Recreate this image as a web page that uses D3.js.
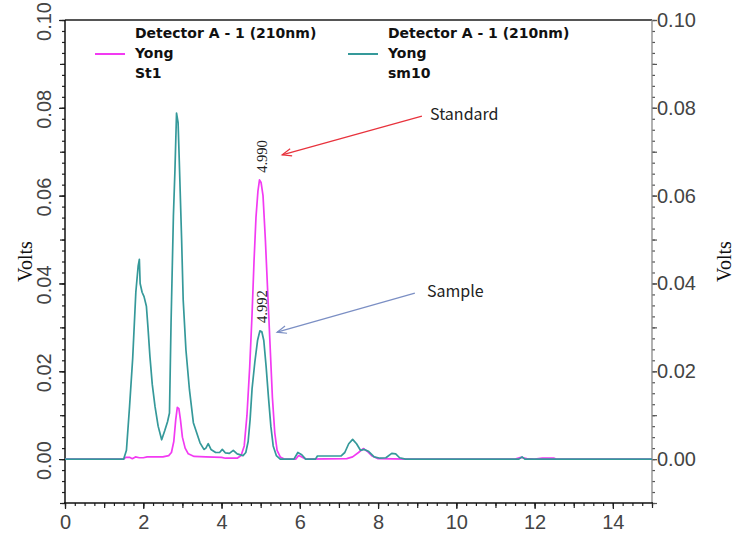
<!DOCTYPE html>
<html>
<head>
<meta charset="utf-8">
<script src="https://cdn.jsdelivr.net/npm/d3@7"></script>
<style>
  body { margin: 0; background: #fff; }
  svg { display: block; }
</style>
</head>
<body>
<div id="chart"></div>
<script>
// Chromatogram: Detector A - 1 (210nm), two runs (time in min, signal in volts)
const st1Points = [
  [0, 0], [1.50, 0], [1.55, 0.0004], [1.65, 0.0004], [1.72, 0.0001], [1.80, 0.0005],
  [1.90, 0.0003], [2.00, 0.0003], [2.10, 0.0005], [2.30, 0.0005], [2.50, 0.0005],
  [2.65, 0.0008], [2.72, 0.0015], [2.78, 0.004], [2.83, 0.009], [2.87, 0.0118],
  [2.91, 0.0115], [2.95, 0.009], [3.00, 0.005], [3.07, 0.0025], [3.15, 0.0012],
  [3.30, 0.0006], [3.60, 0.0005], [4.00, 0.0004], [4.10, 0.0002], [4.40, 0.0002],
  [4.50, 0.0008], [4.58, 0.003], [4.65, 0.010], [4.72, 0.021], [4.78, 0.033],
  [4.83, 0.045], [4.88, 0.055], [4.93, 0.061], [4.97, 0.0636], [5.01, 0.063],
  [5.06, 0.060], [5.12, 0.050], [5.18, 0.038], [5.24, 0.026], [5.30, 0.014],
  [5.36, 0.006], [5.42, 0.002], [5.50, 0.0005], [5.60, 0], [5.90, 0], [5.97, 0.0008],
  [6.05, 0.0005], [6.15, 0], [7.20, 0.0001], [7.35, 0.0005], [7.50, 0.0015],
  [7.62, 0.0024], [7.72, 0.0018], [7.85, 0.0007], [8.00, 0.0001], [8.80, 0],
  [11.50, 0], [11.65, 0.0004], [11.80, 0.0001], [12.00, 0], [12.20, 0.0002],
  [12.50, 0.0002], [12.55, 0], [15, 0]
];

const sm10Points = [
  [0, 0], [1.50, 0], [1.57, 0.002], [1.65, 0.012], [1.73, 0.023], [1.81, 0.038],
  [1.87, 0.044], [1.90, 0.0455], [1.92, 0.040], [1.97, 0.038], [2.02, 0.037],
  [2.08, 0.0348], [2.12, 0.030], [2.17, 0.0234], [2.23, 0.017], [2.30, 0.012],
  [2.38, 0.0075], [2.47, 0.0044], [2.55, 0.0065], [2.62, 0.0085], [2.67, 0.0105],
  [2.71, 0.031], [2.77, 0.0553], [2.81, 0.0659], [2.85, 0.0788], [2.89, 0.0766],
  [2.92, 0.068], [2.98, 0.050], [3.02, 0.0363], [3.09, 0.0249], [3.18, 0.0158],
  [3.28, 0.0083], [3.45, 0.0037], [3.55, 0.0022], [3.60, 0.0025], [3.66, 0.0035],
  [3.73, 0.0022], [3.85, 0.0015], [3.95, 0.0015], [4.02, 0.0022], [4.10, 0.0014],
  [4.20, 0.0013], [4.30, 0.002], [4.40, 0.0012], [4.55, 0.0008], [4.62, 0.0015],
  [4.68, 0.004], [4.73, 0.009], [4.78, 0.016], [4.85, 0.022], [4.92, 0.027],
  [4.98, 0.0292], [5.03, 0.029], [5.08, 0.027], [5.14, 0.021], [5.20, 0.014],
  [5.26, 0.0075], [5.32, 0.003], [5.40, 0.0008], [5.50, 0], [5.85, 0],
  [5.95, 0.0015], [6.05, 0.001], [6.15, 0], [6.40, 0], [6.45, 0.0007],
  [7.05, 0.0007], [7.15, 0.0015], [7.25, 0.0035], [7.35, 0.0045], [7.45, 0.0035],
  [7.55, 0.002], [7.65, 0.0022], [7.75, 0.0018], [7.90, 0.0005], [8.05, 0.0002],
  [8.20, 0.0003], [8.35, 0.0013], [8.45, 0.0012], [8.55, 0.0003], [8.70, 0],
  [11.60, 0], [11.68, 0.0005], [11.75, 0], [15, 0]
];

const legendHeader = "Detector A - 1 (210nm)";
const legendUser = ["Yong", "Yong"];
const legendRuns = ["St1", "sm10"];
const seriesColors = ["#f23af2", "#35999a"];

const peakTimes = [4.990, 4.992];
const peakVolts = [0.0636, 0.0294];
const peakLabels = ["4.990", "4.992"];

const xMajorTicks = [0, 2, 4, 6, 8, 10, 12, 14];
const yMajorTicks = [0, 0.02, 0.04, 0.06, 0.08, 0.10];

// arrows: [label, text pos (min, V), tail (min, V), head (min, V), colour]
const notes = [
  ["Standard", [9.33, 0.0788], [9.12, 0.0781], [5.55, 0.0693], "#e8323c"],
  ["Sample", [9.25, 0.0385], [8.94, 0.0378], [5.42, 0.0289], "#7b8fc4"]
];

const W = 734, H = 535;
const margin = { top: 20, right: 82, bottom: 32, left: 65 };

const svg = d3.select("#chart").append("svg")
  .attr("width", W)
  .attr("height", H);

const x = d3.scaleLinear().domain([0, 15]).range([margin.left, W - margin.right]);
const y = d3.scaleLinear().domain([-0.01, 0.10]).range([H - margin.bottom, margin.top]);

const tickFont = "'Liberation Sans', Arial, sans-serif";

// --- axes: minor / mid / major tick layers ---
function drawAxis(axisFn, pos, values, size, stroke, withLabels, fmt) {
  const a = axisFn.tickValues(values).tickSizeInner(size).tickSizeOuter(0)
    .tickFormat(withLabels ? fmt : "");
  const g = svg.append("g").attr("transform", pos).call(a);
  g.select(".domain").remove();
  g.selectAll(".tick line").attr("stroke", stroke).attr("stroke-width", 1.2);
  return g;
}

const xMinor = d3.range(0, 15.001, 0.25);
const xMid = d3.range(0, 15.001, 1);
const bottomPos = `translate(0,${H - margin.bottom})`;
drawAxis(d3.axisBottom(x), bottomPos, xMinor, 3, "#222", false);
drawAxis(d3.axisBottom(x), bottomPos, xMid, 5, "#222", false);
const gx = drawAxis(d3.axisBottom(x), bottomPos, xMajorTicks, 6, "#222", true, d3.format("d"));
gx.selectAll(".tick text")
  .attr("y", 20)
  .attr("dy", "0.32em")
  .attr("fill", "#444")
  .style("font-family", tickFont)
  .style("font-size", "20px");

const yMinor = d3.range(-0.01, 0.1001, 0.0025);
const yMid = d3.range(-0.01, 0.1001, 0.01);
const leftPos = `translate(${margin.left},0)`;
drawAxis(d3.axisLeft(y), leftPos, yMinor, 3, "#222", false);
drawAxis(d3.axisLeft(y), leftPos, yMid, 5, "#222", false);
const gyl = drawAxis(d3.axisLeft(y), leftPos, yMajorTicks, 6, "#222", true, d3.format(".2f"));
gyl.selectAll(".tick text")
  .attr("x", null).attr("dy", null)
  .attr("text-anchor", "middle")
  .attr("dominant-baseline", "central")
  .attr("transform", "translate(-21,1) rotate(-90)")
  .attr("fill", "#444")
  .style("font-family", tickFont)
  .style("font-size", "20px");

const rightPos = `translate(${W - margin.right},0)`;
drawAxis(d3.axisRight(y), rightPos, yMinor, 3, "#555", false);
drawAxis(d3.axisRight(y), rightPos, yMid, 5, "#555", false);
const gyr = drawAxis(d3.axisRight(y), rightPos, yMajorTicks, 5, "#555", true, d3.format(".2f"));
gyr.selectAll(".tick text")
  .attr("x", 5)
  .attr("fill", "#444")
  .style("font-family", tickFont)
  .style("font-size", "20px");

// frame lines
svg.append("line")
  .attr("x1", x(0)).attr("x2", x(15)).attr("y1", y(0.10)).attr("y2", y(0.10))
  .attr("stroke", "#555").attr("stroke-width", 2);
svg.append("line")
  .attr("x1", x(15)).attr("x2", x(15)).attr("y1", y(0.10)).attr("y2", y(-0.01))
  .attr("stroke", "#888").attr("stroke-width", 1.3);
svg.append("line")
  .attr("x1", x(0)).attr("x2", x(0)).attr("y1", y(0.10)).attr("y2", y(-0.01))
  .attr("stroke", "#111").attr("stroke-width", 1.5);
svg.append("line")
  .attr("x1", x(0) - 1).attr("x2", x(15) + 1).attr("y1", y(-0.01)).attr("y2", y(-0.01))
  .attr("stroke", "#111").attr("stroke-width", 1.5);

// axis titles
[25, 724].forEach(cx => {
  svg.append("text")
    .attr("transform", `translate(${cx},${(y(0.10) + y(-0.01)) / 2}) rotate(-90)`)
    .attr("text-anchor", "middle")
    .attr("dominant-baseline", "central")
    .attr("fill", "#111")
    .style("font-family", "'Liberation Serif', 'Times New Roman', serif")
    .style("font-size", "20px")
    .text("Volts");
});

// traces
const line = d3.line().x(d => x(d[0])).y(d => y(d[1]));
[st1Points, sm10Points].forEach((pts, i) => {
  svg.append("path")
    .datum(pts)
    .attr("fill", "none")
    .attr("stroke", seriesColors[i])
    .attr("stroke-width", 1.7)
    .attr("stroke-linejoin", "round")
    .attr("d", line);
});

// peak retention-time labels
peakTimes.forEach((t, i) => {
  svg.append("text")
    .attr("transform", `translate(${x(t) + 2},${y(peakVolts[i]) - 7}) rotate(-90)`)
    .attr("text-anchor", "start")
    .attr("dominant-baseline", "central")
    .attr("fill", "#222")
    .style("font-family", "'Liberation Serif', serif")
    .style("font-size", "14.5px")
    .text(peakLabels[i]);
});

// legend
const legendX = [135, 388];
legendRuns.forEach((run, i) => {
  const lx = legendX[i];
  const lg = svg.append("g")
    .style("font-family", "'DejaVu Sans', Arial, sans-serif")
    .style("font-weight", "bold")
    .style("font-size", "14px")
    .attr("fill", "#111");
  lg.append("text").attr("x", lx).attr("y", 33).attr("dominant-baseline", "central").text(legendHeader);
  lg.append("text").attr("x", lx).attr("y", 53).attr("dominant-baseline", "central").text(legendUser[i]);
  lg.append("text").attr("x", lx).attr("y", 73).attr("dominant-baseline", "central").text(run);
  lg.append("line")
    .attr("x1", lx - 40).attr("x2", lx - 10).attr("y1", 54).attr("y2", 54)
    .attr("stroke", seriesColors[i]).attr("stroke-width", 2);
});

// annotation arrows
notes.forEach(([label, tp, tail, head, col]) => {
  const x1 = x(tail[0]), y1 = y(tail[1]), x2 = x(head[0]), y2 = y(head[1]);
  const ang = Math.atan2(y1 - y2, x1 - x2);
  const len = 10, spread = 0.38;
  svg.append("line")
    .attr("x1", x1).attr("y1", y1).attr("x2", x2).attr("y2", y2)
    .attr("stroke", col).attr("stroke-width", 1.2);
  svg.append("path")
    .attr("d", d3.line()([
      [x2 + len * Math.cos(ang - spread), y2 + len * Math.sin(ang - spread)],
      [x2, y2],
      [x2 + len * Math.cos(ang + spread), y2 + len * Math.sin(ang + spread)]
    ]))
    .attr("fill", "none").attr("stroke", col).attr("stroke-width", 1.2);
  svg.append("text")
    .attr("x", x(tp[0])).attr("y", y(tp[1]))
    .attr("dominant-baseline", "central")
    .attr("fill", "#222")
    .style("font-family", "'Noto Sans CJK KR', 'Noto Sans', sans-serif")
    .style("font-size", "16px")
    .text(label);
});
</script>
</body>
</html>
